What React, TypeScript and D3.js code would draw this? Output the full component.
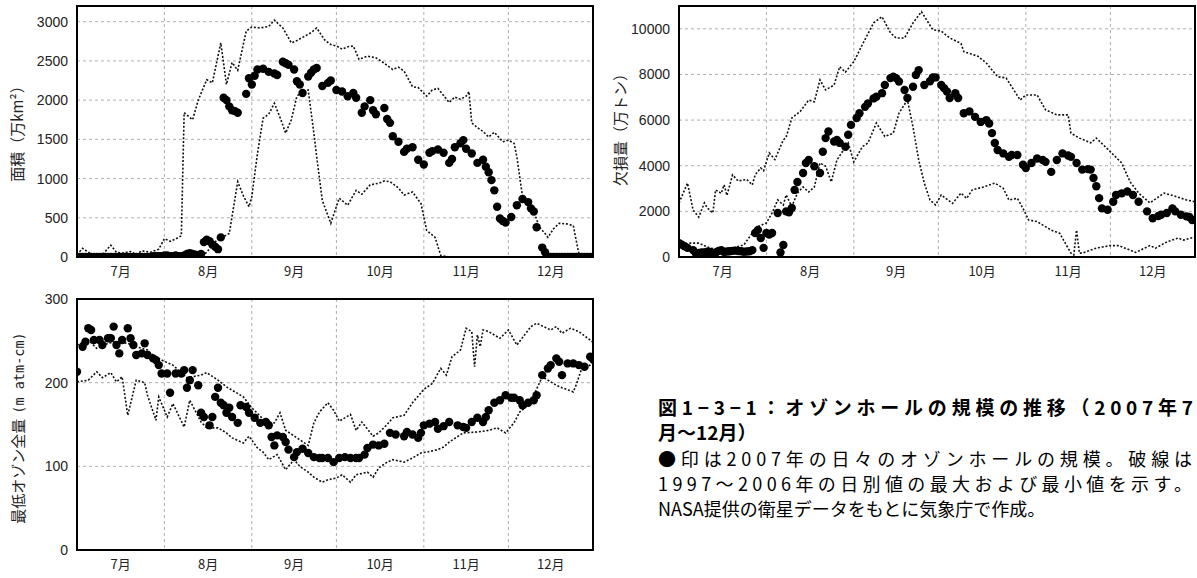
import * as d3 from "d3";
import React from "react";

type Pt = [number, number];

// days counted from 1 July 2007 (0) to 31 December 2007 (183)
const monthLabels = ["7月", "8月", "9月", "10月", "11月", "12月"];
const monthStarts = [0, 31, 62, 92, 123, 153];
const lastDay = 183;

const areaTicks = [0, 500, 1000, 1500, 2000, 2500, 3000];
const deficitTicks = [0, 2000, 4000, 6000, 8000, 10000];
const ozoneTicks = [0, 100, 200, 300];

// 面積 (万km²)
const areaDots: Pt[] = [
  [0, 0], [1, 0], [2, 0], [3, 0], [4, 0], [5, 0], [6, 0], [7, 0], [8, 0], [9, 0], [10, 0], [11, 0], [12, 0],
  [13, 0], [14, 0], [15, 0], [16, 0], [17, 0], [18, 0], [19, 0], [20, 0], [21, 0], [22, 0], [23, 0], [24, 0],
  [25, 0], [26, 0], [27, 10], [28, 10], [29, 10], [30, 10], [31, 20], [32, 20], [33, 10], [34, 10], [35, 20],
  [36, 10], [37, 10], [38, 20], [39, 40], [40, 50], [41, 40], [42, 30], [43, 20], [44, 40], [45, 190], [46, 220],
  [47, 200], [48, 160], [49, 130], [50, 100], [51, 250], [52, 2030], [53, 2000], [54, 1920], [55, 1870],
  [56, 1860], [57, 1840], [60, 2080], [61, 2280], [62, 2200], [63, 2310], [64, 2390], [66, 2400], [68, 2360],
  [70, 2340], [71, 2320], [73, 2490], [74, 2470], [75, 2450], [77, 2390], [78, 2240], [79, 2200], [80, 2090],
  [82, 2300], [83, 2350], [84, 2390], [85, 2410], [87, 2180], [89, 2220], [90, 2250], [92, 2130], [94, 2110],
  [96, 2050], [98, 2090], [99, 2030], [101, 1840], [102, 1920], [104, 2000], [105, 1870], [106, 1820],
  [109, 1900], [110, 1760], [111, 1710], [112, 1540], [114, 1470], [116, 1340], [117, 1380], [119, 1400],
  [121, 1240], [123, 1180], [125, 1330], [126, 1350], [128, 1370], [130, 1330], [132, 1200], [133, 1250],
  [134, 1400], [136, 1450], [137, 1490], [138, 1380], [140, 1320], [142, 1200], [144, 1240], [145, 1150],
  [146, 1080], [147, 980], [148, 850], [149, 640], [150, 490], [151, 460], [152, 440], [154, 510], [156, 660],
  [158, 740], [160, 700], [161, 620], [162, 580], [163, 380], [165, 120], [166, 60], [167, 0], [168, 0],
  [169, 0], [170, 0], [171, 0], [172, 0], [173, 0], [174, 0], [175, 0], [176, 0], [177, 0], [178, 0], [179, 0],
  [180, 0], [181, 0], [182, 0], [183, 0],
];
const areaMax: Pt[] = [
  [0, 30], [2, 110], [5, 40], [9, 30], [12, 150], [14, 60], [16, 50], [19, 70], [21, 30], [23, 80], [26, 60],
  [29, 100], [31, 235], [33, 200], [35, 230], [37, 270], [38, 1840], [41, 1750], [43, 2000], [46, 2260],
  [48, 2220], [51, 2730], [53, 2200], [55, 2480], [57, 2380], [60, 2880], [62, 2930], [65, 2920], [68, 2940],
  [70, 3020], [73, 2920], [76, 2730], [78, 2760], [80, 2800], [83, 2860], [85, 2920], [88, 2760], [90, 2710],
  [92, 2690], [94, 2650], [96, 2680], [98, 2690], [100, 2520], [103, 2560], [106, 2540], [109, 2470],
  [112, 2390], [114, 2420], [116, 2370], [119, 2170], [121, 2160], [124, 2050], [126, 2130], [128, 2150],
  [130, 2060], [132, 1970], [134, 2040], [136, 2010], [138, 2050], [139, 2110], [140, 1710], [142, 1650],
  [144, 1600], [146, 1530], [148, 1590], [151, 1470], [153, 1490], [155, 1450], [156, 1280], [158, 770],
  [161, 680], [164, 380], [166, 300], [167, 250], [169, 360], [171, 430], [174, 420], [176, 400], [178, 40],
  [180, 0], [183, 0],
];
const areaMin: Pt[] = [
  [0, 0], [44, 0], [46, 60], [48, 150], [50, 230], [52, 260], [54, 300], [57, 960], [59, 780], [61, 640],
  [62, 770], [64, 1320], [66, 1770], [68, 1820], [70, 1960], [72, 1780], [74, 1580], [76, 1750], [78, 2050],
  [80, 2110], [82, 2130], [84, 1580], [85, 1280], [87, 720], [90, 430], [93, 750], [96, 660], [99, 850],
  [101, 800], [104, 920], [107, 940], [109, 970], [111, 960], [114, 880], [116, 790], [119, 830], [122, 680],
  [124, 340], [127, 250], [129, 20], [132, 0], [183, 0],
];

// 欠損量 (万トン)
const deficitDots: Pt[] = [
  [0, 610], [1, 540], [2, 470], [3, 400], [5, 300], [6, 150], [7, 180], [8, 200], [9, 200], [10, 230],
  [11, 220], [12, 180], [13, 200], [14, 260], [15, 300], [16, 220], [17, 240], [18, 250], [19, 270],
  [20, 280], [21, 260], [22, 250], [23, 230], [24, 240], [25, 250], [26, 300], [27, 1050], [28, 1190],
  [29, 830], [30, 400], [31, 1050], [32, 980], [33, 1050], [35, 1930], [36, 200], [37, 530], [38, 2000],
  [39, 1960], [40, 2150], [41, 2940], [42, 3290], [44, 3680], [45, 4120], [46, 4250], [48, 3980], [50, 3680],
  [51, 4610], [52, 5210], [53, 5500], [55, 5060], [56, 5130], [57, 5000], [59, 4830], [60, 5360], [61, 5790],
  [63, 6090], [64, 6300], [66, 6580], [67, 6730], [69, 6950], [70, 7020], [72, 7180], [73, 7540], [75, 7840],
  [76, 7900], [77, 7840], [78, 7690], [80, 7320], [81, 6970], [83, 7460], [84, 7980], [85, 8190], [87, 7540],
  [89, 7700], [90, 7870], [91, 7870], [93, 7540], [94, 7400], [95, 7250], [96, 6970], [98, 7180], [99, 6970],
  [101, 6300], [103, 6380], [105, 6140], [107, 5920], [109, 6000], [110, 5850], [111, 5430], [112, 5000],
  [113, 4690], [115, 4540], [117, 4390], [118, 4470], [120, 4470], [122, 4040], [123, 3900], [125, 4120],
  [127, 4320], [129, 4250], [130, 4170], [132, 3730], [134, 4250], [136, 4540], [138, 4450], [139, 4390],
  [141, 4120], [143, 3830], [145, 3850], [146, 3830], [147, 3460], [148, 3100], [149, 2580], [150, 2130],
  [152, 2070], [154, 2420], [155, 2720], [157, 2790], [159, 2870], [161, 2720], [163, 2420], [166, 2000],
  [168, 1700], [170, 1800], [171, 1850], [173, 1930], [175, 2130], [176, 2000], [178, 1850], [180, 1780],
  [181, 1750], [182, 1620],
];
const deficitMax: Pt[] = [
  [0, 2370], [3, 3240], [5, 2060], [7, 1750], [9, 2370], [10, 2150], [12, 1930], [13, 2940], [15, 2790],
  [16, 3160], [17, 2700], [19, 3600], [21, 3330], [24, 3400], [26, 3160], [27, 3600], [29, 3900], [30, 3780],
  [32, 4560], [34, 4270], [37, 5130], [38, 5250], [40, 6090], [43, 6380], [46, 6880], [48, 6800], [50, 7760],
  [52, 7320], [55, 7540], [57, 8340], [59, 8100], [62, 8560], [65, 9300], [69, 10260], [72, 10530],
  [75, 9820], [77, 9600], [80, 9600], [83, 10260], [86, 10750], [90, 9960], [93, 9900], [96, 9600],
  [100, 9360], [101, 9000], [106, 8800], [109, 8500], [113, 7900], [116, 7850], [118, 7460], [121, 6880],
  [123, 7100], [127, 7100], [130, 6450], [134, 6230], [138, 6230], [139, 5430], [142, 5210], [146, 5000],
  [148, 5210], [153, 4610], [157, 4120], [160, 3290], [163, 2800], [167, 2370], [172, 2800], [176, 2660],
  [180, 2500], [183, 2420],
];
const deficitMin: Pt[] = [
  [0, 390], [4, 610], [7, 610], [11, 390], [15, 300], [19, 390], [23, 530], [26, 1050], [28, 1340],
  [31, 1490], [33, 1930], [35, 2500], [37, 2280], [38, 2720], [40, 2220], [42, 2800], [44, 3070], [46, 2850],
  [48, 3070], [50, 4120], [52, 3980], [54, 3290], [56, 4250], [60, 5000], [62, 4170], [65, 4830], [67, 5000],
  [70, 5870], [73, 5280], [76, 5430], [78, 6300], [81, 6880], [83, 5700], [85, 4250], [87, 3240], [89, 2500],
  [91, 2280], [93, 2720], [97, 2350], [100, 2800], [102, 2570], [104, 2940], [108, 3070], [112, 3240],
  [115, 3010], [117, 2500], [120, 2570], [122, 2130], [124, 1620], [127, 1550], [132, 1180], [135, 1040],
  [139, 170], [140, 90], [141, 1180], [142, 170], [143, 170], [148, 390], [153, 500], [156, 500], [162, 200],
  [167, 500], [169, 390], [173, 660], [177, 830], [179, 740], [183, 880],
];

// 最低オゾン全量 (m atm-cm)
const ozoneDots: Pt[] = [
  [0, 213], [2, 243], [3, 249], [4, 265], [5, 263], [6, 251], [8, 251], [9, 245], [11, 253], [12, 253],
  [13, 267], [14, 245], [15, 235], [16, 251], [18, 265], [19, 253], [20, 245], [21, 233], [23, 235],
  [24, 247], [25, 233], [27, 229], [28, 227], [29, 221], [30, 211], [32, 211], [33, 188], [35, 211],
  [37, 211], [38, 215], [39, 194], [40, 203], [41, 215], [43, 197], [44, 164], [45, 159], [47, 149],
  [48, 159], [49, 183], [50, 194], [51, 176], [52, 173], [53, 164], [54, 170], [55, 159], [57, 152],
  [58, 173], [60, 171], [61, 164], [63, 158], [65, 152], [67, 153], [68, 149], [69, 135], [70, 125],
  [71, 137], [73, 135], [74, 129], [75, 120], [77, 111], [78, 117], [80, 121], [82, 116], [84, 111],
  [86, 110], [87, 110], [89, 110], [91, 105], [93, 110], [95, 111], [97, 110], [99, 110], [100, 110],
  [102, 114], [103, 122], [105, 126], [107, 125], [109, 127], [111, 140], [113, 138], [116, 136], [117, 141],
  [119, 138], [121, 134], [122, 140], [123, 149], [125, 151], [127, 153], [128, 145], [130, 148], [132, 153],
  [135, 149], [137, 147], [138, 146], [140, 153], [142, 158], [144, 153], [145, 159], [146, 167], [148, 176],
  [150, 179], [152, 185], [154, 182], [155, 182], [157, 179], [158, 173], [160, 176], [162, 179], [163, 185],
  [165, 209], [167, 217], [168, 221], [170, 229], [171, 225], [172, 209], [174, 223], [176, 223], [178, 221],
  [180, 219], [182, 231], [183, 228],
];
const ozoneMax: Pt[] = [
  [0, 245], [4, 251], [7, 241], [11, 247], [14, 249], [18, 247], [21, 243], [25, 239], [26, 235], [30, 227],
  [34, 221], [39, 206], [44, 209], [46, 212], [50, 203], [53, 195], [56, 189], [59, 183], [62, 170],
  [67, 153], [70, 152], [72, 164], [74, 143], [78, 134], [82, 125], [84, 152], [86, 165], [89, 176],
  [91, 167], [93, 154], [97, 162], [99, 143], [101, 153], [105, 136], [107, 140], [110, 150], [112, 158],
  [116, 161], [119, 176], [123, 192], [126, 199], [129, 217], [131, 209], [133, 231], [136, 239], [138, 265],
  [140, 261], [141, 219], [142, 257], [143, 243], [144, 263], [146, 261], [150, 253], [153, 263], [156, 245],
  [161, 267], [163, 271], [168, 263], [170, 267], [172, 259], [175, 265], [178, 261], [182, 251], [183, 248],
];
const ozoneMin: Pt[] = [
  [0, 201], [4, 203], [7, 213], [9, 206], [12, 212], [14, 201], [16, 207], [18, 161], [21, 203], [24, 200],
  [25, 185], [28, 155], [29, 183], [32, 159], [34, 175], [38, 147], [40, 179], [44, 153], [46, 146],
  [50, 146], [53, 140], [55, 134], [59, 128], [61, 136], [64, 122], [66, 117], [68, 108], [71, 114],
  [74, 96], [77, 108], [79, 100], [82, 93], [84, 87], [87, 81], [89, 84], [92, 86], [94, 90], [97, 81],
  [99, 90], [103, 93], [105, 87], [107, 98], [110, 105], [112, 108], [116, 105], [119, 110], [122, 116],
  [124, 117], [128, 120], [130, 123], [132, 129], [137, 140], [142, 141], [146, 143], [149, 146], [152, 140],
  [155, 152], [157, 165], [160, 173], [162, 185], [165, 207], [167, 203], [170, 197], [172, 194], [176, 189],
  [177, 197], [179, 217], [182, 221], [183, 225],
];

const jp = "'Noto Sans CJK JP', 'Noto Sans', sans-serif";

type PanelProps = {
  id: string;
  left: number;
  top: number;
  yMax: number;
  ticks: number[];
  dots: Pt[];
  maxLine: Pt[];
  minLine: Pt[];
  children?: React.ReactNode;
};

function Panel({ id, left, top, yMax, ticks, dots, maxLine, minLine, children }: PanelProps) {
  const width = 516;
  const height = 251;
  const x = d3.scaleLinear().domain([0, lastDay]).range([left, left + width]);
  const y = d3.scaleLinear().domain([0, yMax]).range([top + height, top]);
  const line = d3
    .line<Pt>()
    .x((d) => x(d[0]))
    .y((d) => y(d[1]));
  const monthEnds = [...monthStarts.slice(1), lastDay];

  return (
    <g>
      <defs>
        <clipPath id={id}>
          <rect x={left} y={top} width={width} height={height} />
        </clipPath>
      </defs>
      {/* grid */}
      {ticks
        .filter((t) => t > 0 && t < yMax)
        .map((t) => (
          <line key={"h" + t} x1={left} x2={left + width} y1={y(t)} y2={y(t)}
            stroke="#9a9a9a" strokeWidth={0.8} strokeDasharray="3,3" />
        ))}
      {monthStarts.slice(1).map((m) => (
        <line key={"v" + m} x1={x(m)} x2={x(m)} y1={top} y2={top + height}
          stroke="#9a9a9a" strokeWidth={0.8} strokeDasharray="3,3" />
      ))}
      <g clipPath={`url(#${id})`}>
        <path d={line(maxLine) ?? ""} fill="none" stroke="#111" strokeWidth={1.6} strokeDasharray="2,1.8" />
        <path d={line(minLine) ?? ""} fill="none" stroke="#111" strokeWidth={1.6} strokeDasharray="2,1.8" />
        {dots.map((d, i) => (
          <circle key={i} cx={x(d[0])} cy={y(d[1])} r={4.2} fill="#000" />
        ))}
      </g>
      <rect x={left} y={top} width={width} height={height} fill="none" stroke="#000" strokeWidth={2} />
      {/* y tick labels */}
      {ticks.map((t) => (
        <text key={"t" + t} x={left - 9} y={y(t)} dy="0.36em" textAnchor="end"
          fontFamily="'Liberation Sans', Arial, sans-serif" fontSize={14} fill="#222">
          {t}
        </text>
      ))}
      {/* month labels */}
      {monthLabels.map((m, i) => (
        <text key={m} x={x((monthStarts[i] + monthEnds[i]) / 2)} y={top + height + 19}
          textAnchor="middle" fontFamily={jp} fontSize={13} fill="#222">
          {m}
        </text>
      ))}
      {children}
    </g>
  );
}

export default function App() {
  return (
    <svg width={1197} height={578} style={{ position: "absolute", left: 0, top: 0, background: "#fff" }}>
      <rect width={1197} height={578} fill="#fff" />
      <Panel id="c1" left={77} top={6} yMax={3200} ticks={areaTicks} dots={areaDots} maxLine={areaMax} minLine={areaMin}>
        <text transform="translate(23,130) rotate(-90)" textAnchor="middle" fontFamily={jp} fontSize={15} fill="#222">
          面積（万km²）
        </text>
      </Panel>
      <Panel id="c2" left={679} top={6} yMax={11000} ticks={deficitTicks} dots={deficitDots} maxLine={deficitMax} minLine={deficitMin}>
        <text transform="translate(626,126) rotate(-90)" textAnchor="middle" fontFamily={jp} fontSize={15} fill="#222">
          欠損量（万トン）
        </text>
      </Panel>
      <Panel id="c3" left={77} top={299} yMax={300} ticks={ozoneTicks} dots={ozoneDots} maxLine={ozoneMax} minLine={ozoneMin}>
        <text transform="translate(24,428) rotate(-90)" textAnchor="middle" fontFamily={jp} fontSize={15} fill="#222">
          最低オゾン全量
          <tspan fontFamily="'DejaVu Sans Mono', monospace" fontSize={13.5} dx={5}>(m atm-cm)</tspan>
        </text>
      </Panel>
      <g fontFamily={jp} fill="#000">
        <text x={658} y={415} fontSize={19} fontWeight={700} textLength={535} lengthAdjust="spacing">
          図1−3−1：オゾンホールの規模の推移（2007年7
        </text>
        <text x={658} y={440} fontSize={19} fontWeight={700}>
          月～12月）
        </text>
        <text x={658} y={466} fontSize={18} textLength={534} lengthAdjust="spacing">
          ●印は2007年の日々のオゾンホールの規模。破線は
        </text>
        <text x={658} y={491} fontSize={18} textLength={534} lengthAdjust="spacing">
          1997～2006年の日別値の最大および最小値を示す。
        </text>
        <text x={658} y={516} fontSize={18}>
          NASA提供の衛星データをもとに気象庁で作成。
        </text>
      </g>
    </svg>
  );
}
